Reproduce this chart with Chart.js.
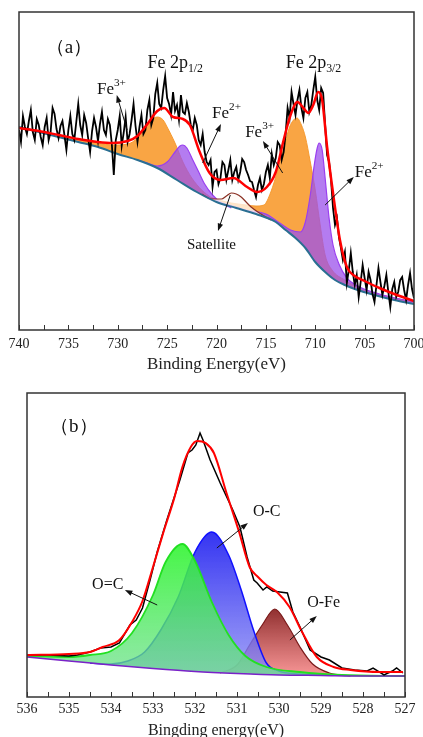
<!DOCTYPE html>
<html>
<head>
<meta charset="utf-8">
<script src="https://cdn.jsdelivr.net/npm/chart.js@4.4.0/dist/chart.umd.min.js"></script>
<style>
  body { margin: 0; background: #fff; overflow: hidden; }
  #chartA { position: absolute; left: 0; top: 0; }
  #chartB { position: absolute; left: 0; top: 380px; }
</style>
</head>
<body>
<canvas id="chartA" width="423" height="380"></canvas>
<canvas id="chartB" width="423" height="362"></canvas>
<script>
// ---- panel (a) : Fe 2p ----
const bgAE = [740, 738, 736, 734, 732, 730, 728, 726, 724, 722, 720, 718, 716, 714, 713, 712, 711, 710, 709, 708, 707, 706, 704, 702, 700];
const bgAI = [203, 198, 193, 188, 183, 176, 170, 162, 150, 138, 128, 122, 116, 108, 100, 92, 82, 68, 58, 50, 45, 41, 35, 30, 26];

const fe3aE = [736, 734, 732, 730.5, 729, 728, 727.4, 726.6, 726, 725.4, 725, 724.2, 723.4, 722.5, 721.5, 720.5];
const fe3aI = [194, 191, 187, 185, 186, 192, 200, 210, 213, 210, 203, 187, 168, 152, 140, 132];

const fe2aE = [728, 727, 726, 725, 724.2, 723.7, 723.4, 723, 722.4, 721.8, 721.2, 720.4, 719.5, 718.5];
const fe2aI = [170, 167, 164, 168, 178, 184, 185, 182, 170, 158, 146, 135, 127, 122];

const satE = [721.5, 720.5, 719.5, 719, 718.5, 718, 717.5, 717, 716.5, 715.5, 714.5];
const satI = [136, 131, 131, 134, 137, 136, 133, 128, 123, 116, 110];

const fe3bE = [721, 719, 717, 716, 715.2, 714.5, 713.8, 713.2, 712.6, 712.2, 711.85, 711.4, 711, 710.5, 710, 709.5, 709, 708.3, 707, 705, 702, 700];
const fe3bI = [134, 128, 125, 124, 125, 138, 160, 182, 203, 210, 212, 205, 193, 168, 140, 105, 75, 60, 50, 40, 32, 28];

const fe2bE = [720, 717, 715, 713.6, 712.5, 711.5, 711, 710.5, 710.1, 709.8, 709.6, 709.3, 709, 708.6, 708.2, 707.6, 706.8, 705.5, 703.5, 700];
const fe2bI = [129, 120, 116, 107, 100, 98, 108, 135, 165, 182, 187, 180, 152, 112, 85, 66, 52, 43, 36, 28];

const fitAE = [740, 738, 736, 734, 732, 730.5, 729, 728, 727, 726, 725.3, 724.4, 723.4, 722.7, 721.7, 720.7, 719.6, 718.3, 716.9, 715.9, 714.9, 714, 713.2, 712.5, 711.8, 711.2, 710.7, 710.2, 709.7, 709.3, 708.8, 708.2, 707.5, 706.8, 706, 705, 703.5, 702, 700];
const fitAI = [202, 199, 195, 191, 188, 187, 189, 194, 206, 219, 222, 213, 211, 205, 178, 157, 150, 152, 143, 138, 143, 158, 190, 215, 228, 222, 217, 225, 238, 230, 183, 137, 90, 63, 54, 49, 42, 36, 29];

// raw counts, one reading every 0.2 eV from 740 eV down to 700 eV
const rawAStart = 740, rawAStep = 0.2;
const rawAI = [
  200, 188, 214, 203, 196, 209, 220, 198, 190, 211,
  205, 193, 185, 203, 212, 190, 198, 222, 216, 201,
  192, 204, 209, 195, 180, 200, 214, 196, 190, 208,
  226, 205, 195, 215, 207, 192, 178, 199, 212, 203,
  189, 206, 218, 200, 195, 211, 205, 186, 155, 190,
  200, 214, 184, 197, 213, 188, 196, 210, 226, 204,
  188, 203, 215, 196, 200, 220, 230, 205, 212, 236,
  247, 226, 222, 240, 254, 232, 226, 215, 238, 219,
  225, 210, 235, 218, 216, 227, 218, 205, 200, 212,
  205, 190, 185, 196, 178, 168, 165, 170, 143, 158,
  160, 146, 152, 168, 165, 150, 160, 170, 150, 158,
  163, 150, 158, 171, 168, 160, 155, 149, 148, 140,
  133, 145, 152, 140, 146, 158, 165, 152, 176, 165,
  172, 188, 185, 170, 178, 196, 222, 212, 238, 226,
  215, 230, 240, 222, 212, 232, 238, 218, 225, 240,
  253, 230, 220, 242, 237, 205, 175, 168, 150, 122,
  105, 112, 93, 82, 70, 78, 47, 60, 77, 58,
  45, 55, 33, 48, 65, 52, 40, 58, 50, 36,
  28, 45, 62, 48, 35, 44, 55, 38, 23, 41,
  48, 33, 38, 50, 53, 40, 30, 45, 57, 41,
  32];
const rawAE = rawAI.map((v, i) => +(rawAStart - i * rawAStep).toFixed(1));

// ---- panel (b) : O 1s ----
const bgBE = [536, 535, 534, 533, 532, 531, 530, 529, 528, 527];
const bgBI = [40, 36, 32, 28.5, 25.5, 23.5, 22, 21.5, 21, 21];

const ocdE = [536, 535, 534.5, 534, 533.5, 533, 532.7, 532.3, 532, 531.6, 531.2, 530.8, 530.3, 529.5, 528.5, 527];
const ocdI = [41, 40, 42, 46, 64, 102, 135, 153, 136, 95, 62, 41, 30, 25, 22, 21];

const ocE = [534.5, 534, 533.6, 533.2, 532.8, 532.4, 532, 531.6, 531.2, 530.9, 530.6, 530.3, 530, 529.5, 529];
const ocI = [34, 33, 36, 45, 68, 100, 145, 165, 142, 107, 66, 34, 26, 23, 22];

const ofeE = [531.4, 531, 530.7, 530.4, 530.1, 529.8, 529.5, 529.2, 528.8, 528.3];
const ofeI = [24, 32, 52, 72, 88, 72, 50, 33, 24, 21];

const fitBE = [536, 535, 534.5, 534.2, 533.8, 533.5, 533.25, 533, 532.75, 532.5, 532.3, 532.1, 531.95, 531.75, 531.55, 531.25, 530.95, 530.7, 530.5, 530.3, 530.05, 529.75, 529.45, 529.1, 528.7, 528.3, 527.6, 527.05];
const fitBI = [42, 43, 45, 50, 57, 75, 96, 130, 165, 198, 230, 250, 256, 254, 244, 204, 165, 130, 120, 112, 105, 90, 65, 40, 30, 27, 25, 25];

const rawBE = [536, 535.5, 535, 534.8, 534.5, 534.25, 534, 533.8, 533.55, 533.4, 533.25, 533.07, 532.9, 532.67, 532.36, 532.17, 532.07, 531.98, 531.88, 531.81, 531.64, 531.4, 531.1, 530.93, 530.76, 530.6, 530.52, 530.38, 530.29, 530.15, 529.98, 529.8, 529.67, 529.5, 529.26, 529, 528.8, 528.5, 528.2, 527.9, 527.76, 527.5, 527.3, 527.2, 527.05];
const rawBI = [42, 42, 41, 42, 45, 49, 50, 54, 72, 77, 89, 117, 145, 177, 217, 244, 247, 252, 264, 257, 237, 214, 187, 170, 140, 117, 114, 107, 110, 106, 105, 104, 85, 70, 47, 40, 37, 29, 27, 26, 29, 22, 26, 29, 24];

const serif = '"Liberation Serif", "Times New Roman", serif';

function pts(xs, ys) {
    return xs.map((x, i) => ({x: x, y: ys[i]}));
}

function vGrad(chart, topVal, botVal, c1, c2) {
    const {ctx, chartArea, scales} = chart;
    if (!chartArea) return c1;
    const g = ctx.createLinearGradient(0, scales.y.getPixelForValue(topVal), 0, scales.y.getPixelForValue(botVal));
    g.addColorStop(0, c1);
    g.addColorStop(1, c2);
    return g;
}

// frame box + inward tick marks
const framePlugin = {
    id: 'frame',
    afterDraw(chart) {
        const {ctx, chartArea: a, scales: {x}} = chart;
        ctx.save();
        ctx.strokeStyle = '#333';
        ctx.lineWidth = 1.5;
        ctx.strokeRect(a.left, a.top, a.right - a.left, a.bottom - a.top);
        ctx.lineWidth = 1;
        for (const t of x.ticks) {
            const px = Math.round(x.getPixelForValue(t.value)) + 0.5;
            ctx.beginPath();
            ctx.moveTo(px, a.bottom);
            ctx.lineTo(px, a.bottom - 5);
            ctx.stroke();
        }
        ctx.restore();
    }
};

// labels with sup/sub and arrows, placed in data coordinates
const notesPlugin = {
    id: 'notes',
    afterDraw(chart, args, opts) {
        const {ctx, scales: {x, y}} = chart;
        ctx.save();
        ctx.fillStyle = '#111';
        ctx.textBaseline = 'middle';
        ctx.textAlign = 'left';
        for (const n of opts.labels || []) {
            let cx = x.getPixelForValue(n.x);
            const cy = y.getPixelForValue(n.y);
            for (const p of n.parts) {
                const fs = p.s ? n.size * 0.66 : n.size;
                ctx.font = fs + 'px ' + serif;
                const dy = p.s === 'sup' ? -n.size * 0.4 : (p.s === 'sub' ? n.size * 0.3 : 0);
                ctx.fillText(p.t, cx, cy + dy);
                cx += ctx.measureText(p.t).width;
            }
        }
        ctx.strokeStyle = '#111';
        ctx.lineWidth = 1;
        for (const ar of opts.arrows || []) {
            const x1 = x.getPixelForValue(ar[0]), y1 = y.getPixelForValue(ar[1]);
            const x2 = x.getPixelForValue(ar[2]), y2 = y.getPixelForValue(ar[3]);
            const ang = Math.atan2(y2 - y1, x2 - x1);
            ctx.beginPath();
            ctx.moveTo(x1, y1);
            ctx.lineTo(x2 - 4 * Math.cos(ang), y2 - 4 * Math.sin(ang));
            ctx.stroke();
            ctx.beginPath();
            ctx.moveTo(x2, y2);
            ctx.lineTo(x2 - 8 * Math.cos(ang - 0.35), y2 - 8 * Math.sin(ang - 0.35));
            ctx.lineTo(x2 - 8 * Math.cos(ang + 0.35), y2 - 8 * Math.sin(ang + 0.35));
            ctx.closePath();
            ctx.fill();
        }
        ctx.restore();
    }
};

function xAxis(min, max, step, major, title, titleSize, height, tickPad, titlePad) {
    return {
        type: 'linear',
        reverse: true,
        min: min,
        max: max,
        // fixed axis height, and no extra side padding for the end labels
        afterFit: function (s) {
            s.height = height;
            s.paddingLeft = 0;
            s.paddingRight = 0;
        },
        grid: {display: false, drawTicks: false},
        border: {display: false},
        ticks: {
            stepSize: step,
            autoSkip: false,
            maxRotation: 0,
            padding: tickPad,
            color: '#222',
            font: {family: serif, size: 14},
            callback: v => (Math.abs(v / major - Math.round(v / major)) < 1e-6 ? v : '')
        },
        title: {
            display: true,
            text: title,
            color: '#222',
            font: {family: serif, size: titleSize},
            padding: {top: 0, bottom: titlePad}
        }
    };
}

const line = (label, xs, ys, color, width, order, extra) => Object.assign({
    label: label,
    data: pts(xs, ys),
    borderColor: color,
    borderWidth: width,
    pointRadius: 0,
    fill: false,
    order: order,
    cubicInterpolationMode: 'monotone'
}, extra || {});

// ---- chart (a) ----
new Chart(document.getElementById('chartA'), {
    type: 'line',
    data: {
        datasets: [
            line('Background', bgAE, bgAI, '#2a6f92', 2, 2),
            line('Fe3+ 2p1/2', fe3aE, fe3aI, 'rgba(245,150,40,0.9)', 1, 6, {fill: 0, backgroundColor: 'rgba(248,152,42,0.88)'}),
            line('Fe3+ 2p3/2', fe3bE, fe3bI, 'rgba(245,150,40,0.9)', 1, 6, {fill: 0, backgroundColor: 'rgba(248,152,42,0.88)'}),
            line('Fe2+ 2p1/2', fe2aE, fe2aI, '#9a3ff0', 1.2, 5, {fill: 0, backgroundColor: 'rgba(155,80,235,0.75)'}),
            line('Fe2+ 2p3/2', fe2bE, fe2bI, '#9a3ff0', 1.2, 5, {fill: 0, backgroundColor: 'rgba(155,80,235,0.75)'}),
            line('Satellite', satE, satI, '#8a2f22', 1.2, 4, {fill: 0, backgroundColor: 'rgba(255,250,245,0.75)'}),
            line('Raw', rawAE, rawAI, '#000', 1.8, 1, {cubicInterpolationMode: 'default', tension: 0}),
            line('Fit', fitAE, fitAI, '#ff0000', 2.5, 0)
        ]
    },
    plugins: [framePlugin, notesPlugin],
    options: {
        responsive: false,
        animation: false,
        layout: {autoPadding: false, padding: {left: 19, right: 9, top: 12, bottom: 0}},
        plugins: {
            legend: {display: false},
            tooltip: {enabled: false},
            notes: {
                labels: [
                    {x: 737.3, y: 282, size: 19, parts: [{t: '（a）'}]},
                    {x: 727.0, y: 267, size: 18, parts: [{t: 'Fe 2p'}, {t: '1/2', s: 'sub'}]},
                    {x: 713.0, y: 267, size: 18, parts: [{t: 'Fe 2p'}, {t: '3/2', s: 'sub'}]},
                    {x: 732.1, y: 240, size: 17, parts: [{t: 'Fe'}, {t: '3+', s: 'sup'}]},
                    {x: 720.45, y: 216, size: 17, parts: [{t: 'Fe'}, {t: '2+', s: 'sup'}]},
                    {x: 717.1, y: 197, size: 17, parts: [{t: 'Fe'}, {t: '3+', s: 'sup'}]},
                    {x: 706.0, y: 157, size: 17, parts: [{t: 'Fe'}, {t: '2+', s: 'sup'}]},
                    {x: 723.0, y: 85, size: 15, parts: [{t: 'Satellite'}]}
                ],
                arrows: [
                    [729.05, 200, 730.1, 235],
                    [721.4, 167, 719.55, 206],
                    [713.3, 157, 715.3, 189],
                    [709.0, 125, 706.1, 153],
                    [718.6, 135, 719.85, 99]
                ]
            }
        },
        scales: {
            x: xAxis(700, 740, 2.5, 5, 'Binding Energy(eV)', 17, 50, 6, 5),
            y: {display: false, min: 0, max: 318}
        }
    }
});

// ---- chart (b) ----
const ocdTop = Math.max(...ocdI), ocTop = Math.max(...ocI), ofeTop = Math.max(...ofeI);

new Chart(document.getElementById('chartB'), {
    type: 'line',
    data: {
        datasets: [
            line('Background', bgBE, bgBI, '#7a22c8', 1.5, 2),
            line('O-Fe', ofeE, ofeI, '#7a1a1a', 1.2, 7, {fill: 0,
                backgroundColor: c => vGrad(c.chart, ofeTop, 22, 'rgba(135,30,30,0.92)', 'rgba(245,130,130,0.85)')}),
            line('O-C', ocE, ocI, '#1010ff', 1.5, 6, {fill: 0,
                backgroundColor: c => vGrad(c.chart, ocTop, 22, 'rgba(30,30,240,0.9)', 'rgba(140,140,245,0.8)')}),
            line('O=C', ocdE, ocdI, '#22e022', 1.8, 5, {fill: 0,
                backgroundColor: c => vGrad(c.chart, ocdTop, 22, 'rgba(50,245,50,0.9)', 'rgba(110,225,140,0.75)')}),
            line('Raw', rawBE, rawBI, '#000', 1.5, 1, {cubicInterpolationMode: 'default', tension: 0}),
            line('Fit', fitBE, fitBI, '#ff0000', 2, 0)
        ]
    },
    plugins: [framePlugin, notesPlugin],
    options: {
        responsive: false,
        animation: false,
        layout: {autoPadding: false, padding: {left: 27, right: 18, top: 13, bottom: 0}},
        plugins: {
            legend: {display: false},
            tooltip: {enabled: false},
            notes: {
                labels: [
                    {x: 535.45, y: 270, size: 19, parts: [{t: '（b）'}]},
                    {x: 530.62, y: 185, size: 16, parts: [{t: 'O-C'}]},
                    {x: 534.45, y: 112, size: 16, parts: [{t: 'O=C'}]},
                    {x: 529.33, y: 94, size: 16, parts: [{t: 'O-Fe'}]}
                ],
                arrows: [
                    [531.48, 149, 530.74, 174],
                    [532.9, 92, 533.67, 107],
                    [529.74, 57, 529.1, 81]
                ]
            }
        },
        scales: {
            x: xAxis(527, 536, 0.5, 1, 'Bingding energy(eV)', 16, 45, 4, 2),
            y: {display: false, min: 0, max: 304}
        }
    }
});
</script>
</body>
</html>
